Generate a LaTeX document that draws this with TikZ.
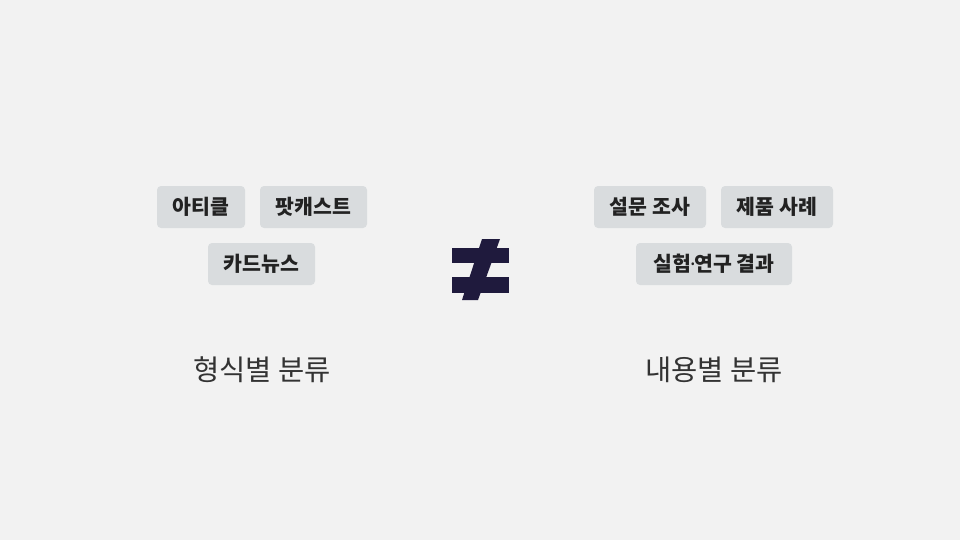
\documentclass[tikz,border=0pt]{standalone}
\usepackage{fontspec}
\newfontfamily\kr{Noto Sans CJK KR}
\newfontfamily\lat{Noto Sans}
\definecolor{bg}{HTML}{F2F2F2}
\definecolor{tagfill}{HTML}{D9DCDE}
\definecolor{tagtext}{HTML}{222222}
\definecolor{navy}{HTML}{1F1A3D}
\definecolor{cap}{HTML}{333333}
\tikzset{
  tag/.style={fill=tagfill, rounded corners=4pt, text=tagtext, font=\kr\bfseries\fontsize{20.5}{20.5}\selectfont, inner sep=0pt, minimum height=42pt, anchor=center},
  caption/.style={text=cap, font=\kr\fontsize{28.5}{28.5}\selectfont, inner sep=0pt}
}
\begin{document}
\begin{tikzpicture}[x=1pt,y=-1pt]
\fill[bg] (0,0) rectangle (960,540);
\useasboundingbox (0,0) rectangle (960,540);
% left tags
\node[tag, minimum width=88pt] (a) at (201,207) {아티클};
\node[tag, minimum width=107pt] (b) at (313.5,207) {팟캐스트};
\node[tag, minimum width=107pt] (c) at (261.5,264) {카드뉴스};
% right tags
\node[tag, minimum width=112pt] (d) at (650,207) {설문 조사};
\node[tag, minimum width=112pt] (e) at (777,207) {제품 사례};
\node[tag, minimum width=156pt] (f) at (714,264) {실험{\lat\mdseries\kern-1pt·\kern-1pt}연구 결과};
% captions
\node[caption] (l) at (262,370) {형식별 분류};
\node[caption] (r) at (714,370) {내용별 분류};
% not-equal sign
\fill[navy] (452,248) rectangle (509,263);
\fill[navy] (452,277) rectangle (509,293);
\fill[navy] (482,239) -- (500,239) -- (478,300) -- (462,300) -- cycle;
\end{tikzpicture}
\end{document}
